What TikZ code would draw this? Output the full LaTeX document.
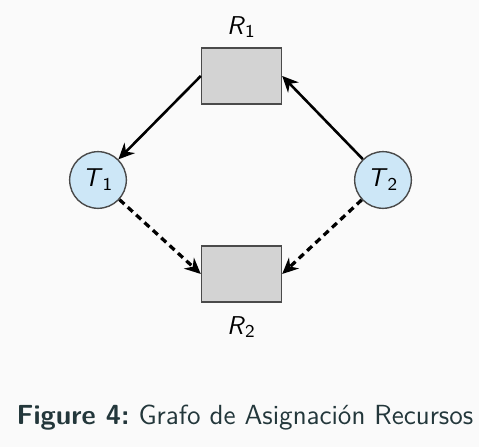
\documentclass[tikz,border=0pt]{standalone}
\usepackage{amsmath,amssymb}
\usepackage{tikz}
\usetikzlibrary{arrows.meta,positioning,calc}
\definecolor{bgray}{HTML}{FAFAFA}
\definecolor{boxgray}{HTML}{D3D3D3}
\definecolor{edgegray}{HTML}{4A4A4A}
\definecolor{thblue}{HTML}{CDE7F7}
\definecolor{capteal}{HTML}{23373B}
\tikzset{
  resbox/.style={draw=edgegray, semithick, fill=boxgray, minimum width=1.2cm, minimum height=0.84cm, inner sep=0pt},
  thread/.style={circle, draw=edgegray, semithick, fill=thblue, minimum size=0.85cm, inner sep=0pt,
                 font=\fontsize{11}{13}\selectfont\sffamily},
  arr/.style={-{Stealth[length=2.4mm, width=2.2mm]}, line width=1.1pt, black},
  dasharr/.style={arr, line width=1.4pt, dash pattern=on 1mm off 0.7mm},
  lab/.style={font=\fontsize{11}{13}\selectfont\sffamily},
}

\begin{document}
\begin{tikzpicture}[x=0.015cm, y=-0.015cm]
    \fill[bgray] (0,0) rectangle (479,447);
    \useasboundingbox (0,0) rectangle (479,447);
    % resources
    \node[resbox] (R1) at (241.5,76) {};
    \node[resbox] (R2) at (241.5,274) {};
    \node[lab] (R1lab) at (241.5,27) {\textit{R}\textsubscript{1}};
    \node[lab] (R2lab) at (241.5,327) {\textit{R}\textsubscript{2}};
    % threads
    \node[thread] (T1) at (98,180) {\textit{T}\textsubscript{1}};
    \node[thread] (T2) at (383,180) {\textit{T}\textsubscript{2}};
    % edges
    \draw[arr] (R1.west) -- (T1);
    \draw[arr] (T2) -- (R1.east);
    \draw[dasharr] (T1) -- (R2.west);
    \draw[dasharr] (T2) -- (R2.east);
    % caption
    \node[font=\fontsize{11.8}{14}\selectfont\sffamily, text=capteal] (cap) at (245,418)
      {\textbf{Figure 4:}\ Grafo de Asignaci\'on Recursos};
\end{tikzpicture}
\end{document}
